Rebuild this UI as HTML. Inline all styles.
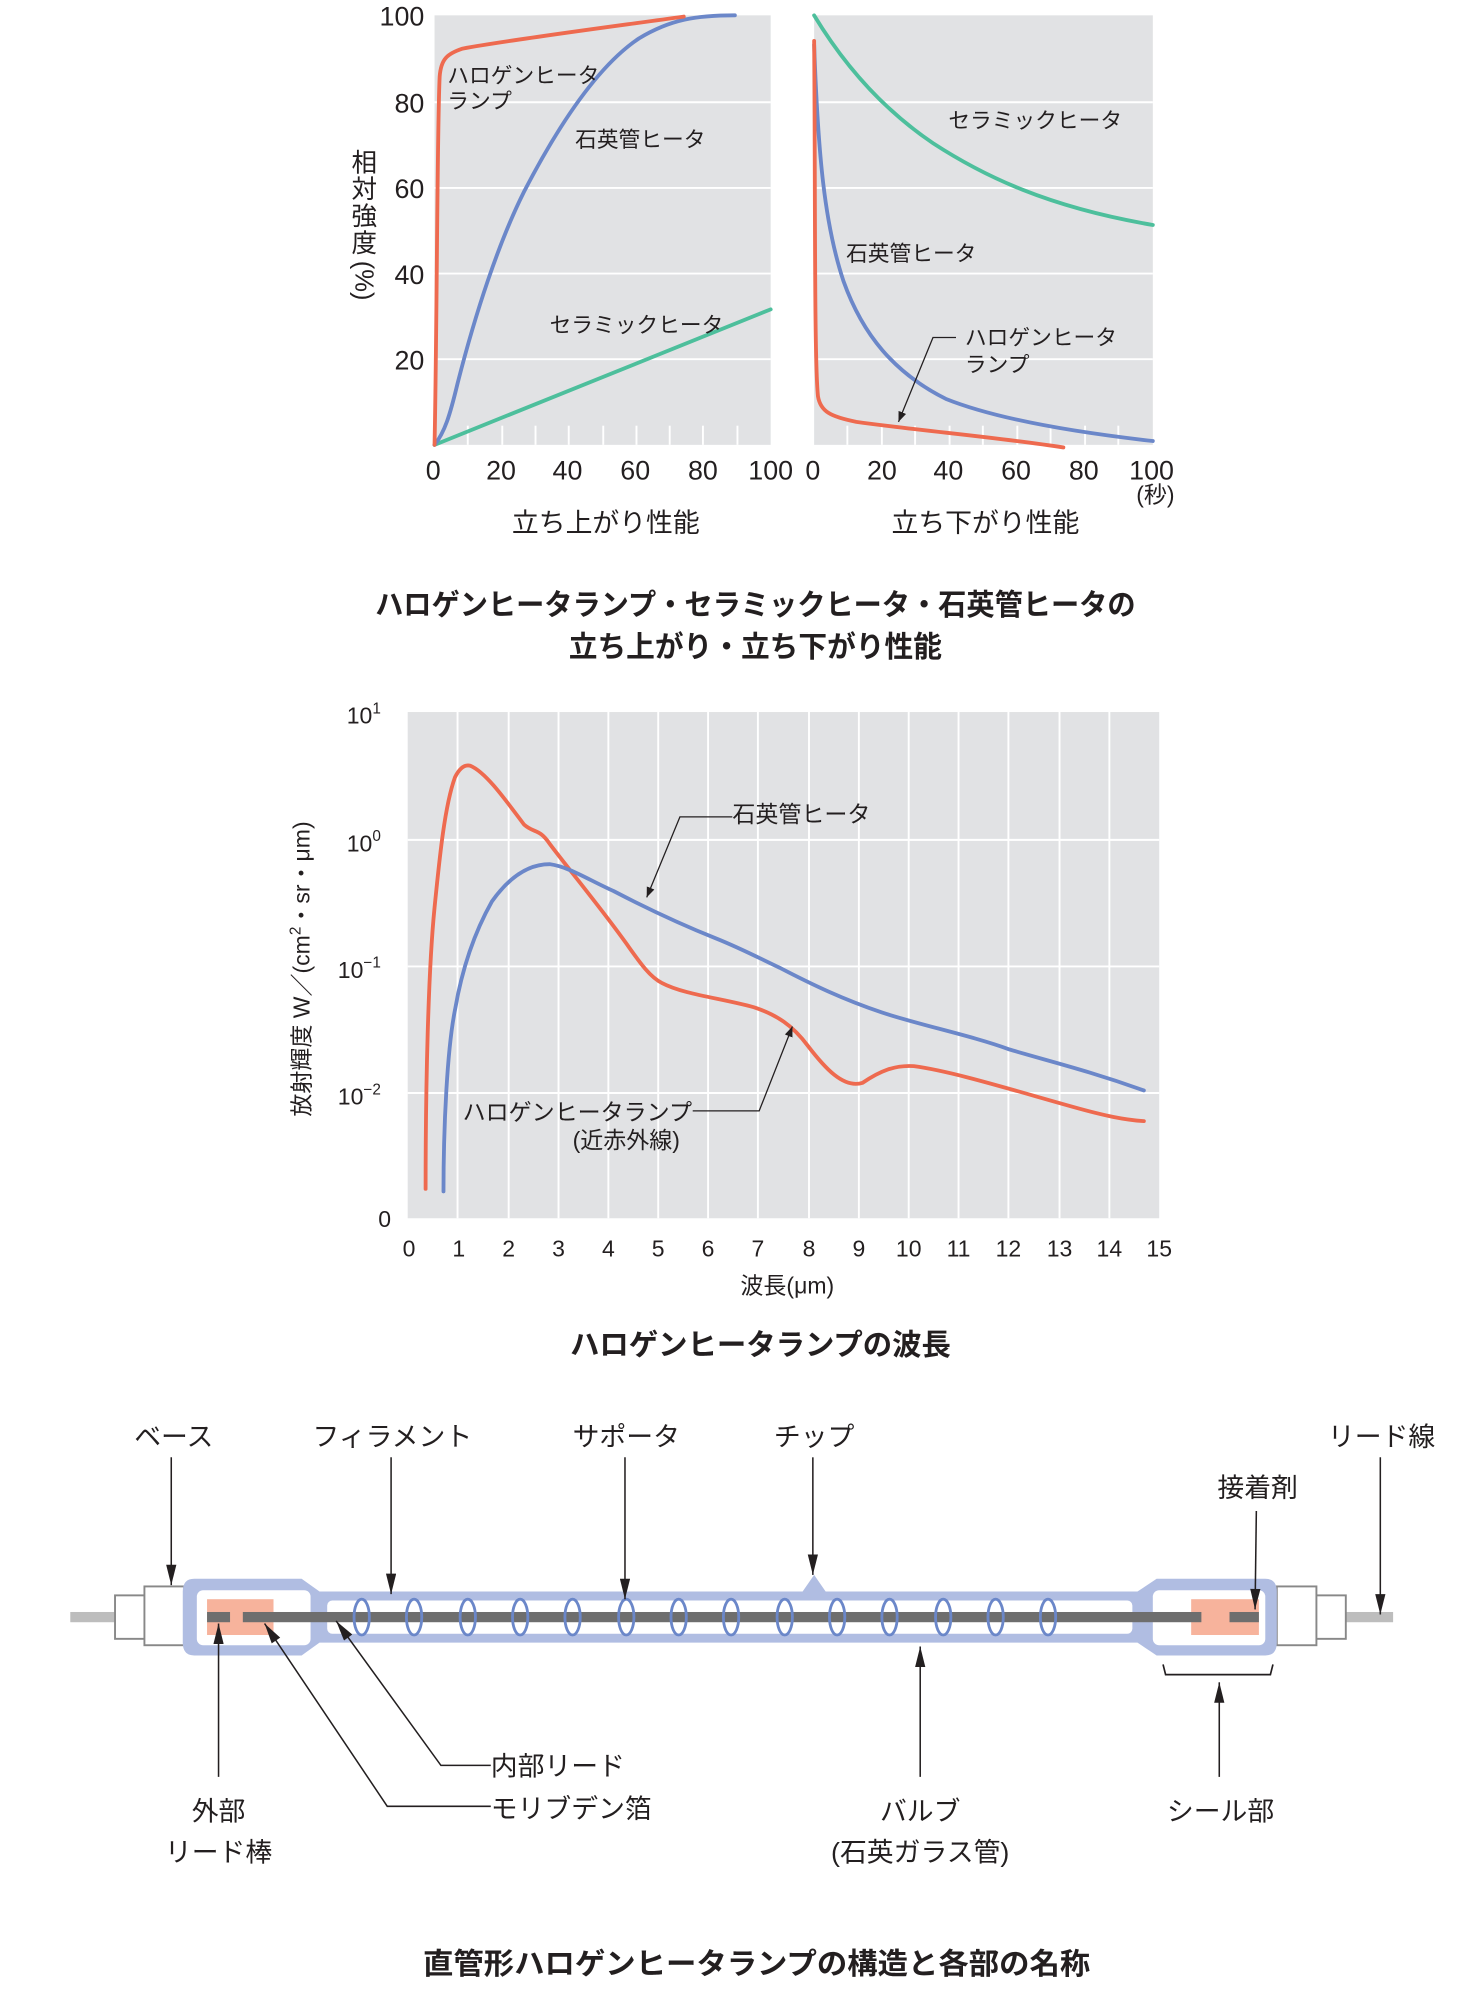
<!DOCTYPE html>
<html><head><meta charset="utf-8"><style>
html,body{margin:0;padding:0;background:#fff;}
svg{display:block;}
text{font-family:"Liberation Sans","Noto Sans CJK JP",sans-serif;fill:#231f20;}
</style></head><body>
<svg width="1457" height="2007" viewBox="0 0 1140 1570" preserveAspectRatio="none" xmlns="http://www.w3.org/2000/svg">
<defs>
<marker id="a2" viewBox="0 0 10 20" markerWidth="8" markerHeight="18" refX="10" refY="10" orient="auto" markerUnits="userSpaceOnUse"><path d="M0,6 L10,10 L0,14 Z" fill="#231f20"/></marker>
<marker id="a3" viewBox="0 0 20 10" markerWidth="18" markerHeight="8" refX="20" refY="5" orient="auto" markerUnits="userSpaceOnUse"><path d="M0,0 L20,5 L0,10 Z" fill="#231f20"/></marker>
</defs>

<!-- TOP CHART -->
<rect x="340" y="12" width="263" height="336" fill="#e1e2e4"/>
<rect x="637" y="12" width="265" height="336" fill="#e1e2e4"/>
<g stroke="#fff" stroke-width="1.5">
<line x1="340" y1="80" x2="603" y2="80"/><line x1="340" y1="147" x2="603" y2="147"/><line x1="340" y1="214" x2="603" y2="214"/><line x1="340" y1="281" x2="603" y2="281"/>
<line x1="637" y1="80" x2="902" y2="80"/><line x1="637" y1="147" x2="902" y2="147"/><line x1="637" y1="214" x2="902" y2="214"/><line x1="637" y1="281" x2="902" y2="281"/>
<line x1="366" y1="333" x2="366" y2="348"/><line x1="393" y1="333" x2="393" y2="348"/><line x1="419" y1="333" x2="419" y2="348"/><line x1="445" y1="333" x2="445" y2="348"/><line x1="472" y1="333" x2="472" y2="348"/><line x1="498" y1="333" x2="498" y2="348"/><line x1="524" y1="333" x2="524" y2="348"/><line x1="550" y1="333" x2="550" y2="348"/><line x1="577" y1="333" x2="577" y2="348"/>
<line x1="663" y1="333" x2="663" y2="348"/><line x1="690" y1="333" x2="690" y2="348"/><line x1="716" y1="333" x2="716" y2="348"/><line x1="743" y1="333" x2="743" y2="348"/><line x1="769" y1="333" x2="769" y2="348"/><line x1="796" y1="333" x2="796" y2="348"/><line x1="822" y1="333" x2="822" y2="348"/><line x1="849" y1="333" x2="849" y2="348"/><line x1="875" y1="333" x2="875" y2="348"/>
</g>
<g fill="none" stroke-width="3" stroke-linecap="round">
<path d="M340,348 L603,242" stroke="#4dbf9c"/>
<path d="M340,348 C348,338 352,325 358,300 C372,245 390,190 410,150 C440,92 470,50 500,30 C525,15 545,12 575,12" stroke="#6b87c9"/>
<path d="M340,348 C342,250 342,100 344,60 C345,46 350,42 362,38 C400,31 470,22 535,13" stroke="#ee6a4f"/>
<path d="M637,12 C660,50 690,85 730,112 C770,138 820,162 902,176" stroke="#4dbf9c"/>
<path d="M637,35 C640,120 645,175 660,220 C675,262 700,292 740,312 C780,328 840,338 902,345" stroke="#6b87c9"/>
<path d="M637,32 C638,150 637,280 640,310 C642,322 650,326 670,330 C720,337 780,342 832,350" stroke="#ee6a4f"/>
</g>
<path d="M748,264 L730,264 L703,330" fill="none" stroke="#231f20" stroke-width="1" marker-end="url(#a2)"/>
<g font-size="17">
<text x="350" y="65">ハロゲンヒータ</text><text x="350" y="85">ランプ</text>
<text x="450" y="115">石英管ヒータ</text>
<text x="430" y="260">セラミックヒータ</text>
<text x="742" y="100">セラミックヒータ</text>
<text x="662" y="204">石英管ヒータ</text>
<text x="755" y="270">ハロゲンヒータ</text><text x="755" y="291">ランプ</text>
</g>
<g font-size="21" text-anchor="end">
<text x="332" y="20">100</text><text x="332" y="88">80</text><text x="332" y="155">60</text><text x="332" y="222">40</text><text x="332" y="289">20</text>
</g>
<g font-size="21" text-anchor="middle">
<text x="339" y="375">0</text><text x="392" y="375">20</text><text x="444" y="375">40</text><text x="497" y="375">60</text><text x="550" y="375">80</text><text x="603" y="375">100</text>
<text x="636" y="375">0</text><text x="690" y="375">20</text><text x="742" y="375">40</text><text x="795" y="375">60</text><text x="848" y="375">80</text><text x="901" y="375">100</text>
<text x="904" y="393" font-size="18">(秒)</text>
<text x="474" y="416">立ち上がり性能</text><text x="771" y="416">立ち下がり性能</text>
</g>
<g font-size="20" text-anchor="middle"><text x="285" y="134">相</text><text x="285" y="155">対</text><text x="285" y="176">強</text><text x="285" y="197">度</text></g>
<text transform="translate(278,204) rotate(90)" font-size="20">(%)</text>
<g font-size="23" font-weight="bold" text-anchor="middle">
<text x="591" y="481" textLength="595" lengthAdjust="spacingAndGlyphs">ハロゲンヒータランプ・セラミックヒータ・石英管ヒータの</text>
<text x="591" y="514" textLength="292" lengthAdjust="spacingAndGlyphs">立ち上がり・立ち下がり性能</text>
</g>

<!-- MIDDLE CHART -->
<rect x="319" y="557" width="588" height="396" fill="#e1e2e4"/>
<g stroke="#fff" stroke-width="1.5">
<line x1="319" y1="657" x2="907" y2="657"/><line x1="319" y1="756" x2="907" y2="756"/><line x1="319" y1="855" x2="907" y2="855"/>
<line x1="358" y1="557" x2="358" y2="953"/><line x1="398" y1="557" x2="398" y2="953"/><line x1="437" y1="557" x2="437" y2="953"/><line x1="476" y1="557" x2="476" y2="953"/><line x1="515" y1="557" x2="515" y2="953"/><line x1="554" y1="557" x2="554" y2="953"/><line x1="593" y1="557" x2="593" y2="953"/><line x1="633" y1="557" x2="633" y2="953"/><line x1="672" y1="557" x2="672" y2="953"/><line x1="711" y1="557" x2="711" y2="953"/><line x1="750" y1="557" x2="750" y2="953"/><line x1="789" y1="557" x2="789" y2="953"/><line x1="829" y1="557" x2="829" y2="953"/><line x1="868" y1="557" x2="868" y2="953"/>
</g>
<g fill="none" stroke-width="3" stroke-linecap="round" stroke-linejoin="round">
<path d="M333,930 C333,850 335,760 340,710 C344,670 348,630 356,608 C360,600 364,598 368,599 C380,604 395,625 410,645 C418,652 422,648 430,660 C445,680 470,710 490,738 C500,752 508,764 518,769 C535,778 565,781 590,788 C608,794 620,802 632,818 C645,835 660,852 675,847 C688,838 700,833 715,834 C745,838 790,852 840,866 C865,873 880,876 895,877" stroke="#ee6a4f"/>
<path d="M347,932 C347,880 350,820 356,790 C362,755 372,728 385,705 C400,684 415,676 430,676 C445,678 460,688 480,697 C505,710 530,722 560,734 C580,742 595,750 610,757 C635,770 660,782 690,792 C720,802 760,810 790,821 C820,830 850,837 895,853" stroke="#6b87c9"/>
</g>
<path d="M573,639 L532,639 L506,702" fill="none" stroke="#231f20" stroke-width="1" marker-end="url(#a2)"/>
<path d="M542,869 L594,869 L620,803" fill="none" stroke="#231f20" stroke-width="1" marker-end="url(#a2)"/>
<g font-size="18"><text x="573" y="643">石英管ヒータ</text><text x="362" y="876">ハロゲンヒータランプ</text><text x="448" y="898">(近赤外線)</text></g>
<g font-size="18" text-anchor="end">
<text x="298" y="566">10<tspan font-size="12" dy="-8">1</tspan></text>
<text x="298" y="666">10<tspan font-size="12" dy="-8">0</tspan></text>
<text x="298" y="765">10<tspan font-size="12" dy="-8">−1</tspan></text>
<text x="298" y="864">10<tspan font-size="12" dy="-8">−2</tspan></text>
<text x="306" y="960">0</text>
</g>
<g font-size="18" text-anchor="middle">
<text x="320" y="983">0</text><text x="359" y="983">1</text><text x="398" y="983">2</text><text x="437" y="983">3</text><text x="476" y="983">4</text><text x="515" y="983">5</text><text x="554" y="983">6</text><text x="593" y="983">7</text><text x="633" y="983">8</text><text x="672" y="983">9</text><text x="711" y="983">10</text><text x="750" y="983">11</text><text x="789" y="983">12</text><text x="829" y="983">13</text><text x="868" y="983">14</text><text x="907" y="983">15</text>
<text x="616" y="1012">波長(μm)</text>
</g>
<text transform="translate(242,758) rotate(-90)" font-size="18" text-anchor="middle">放射輝度 W／(cm<tspan font-size="12" dy="-7">2</tspan><tspan dy="7">・sr・μm)</tspan></text>
<text x="595" y="1060" font-size="23" font-weight="bold" text-anchor="middle">ハロゲンヒータランプの波長</text>

<!-- BOTTOM DIAGRAM -->
<rect x="55" y="1261" width="36" height="8" fill="#bdbdbd"/>
<rect x="1053" y="1261" width="37" height="8" fill="#bdbdbd"/>
<rect x="90" y="1248" width="24" height="34" fill="#fff" stroke="#888" stroke-width="1.5"/>
<rect x="113" y="1241" width="31" height="46" fill="#fff" stroke="#888" stroke-width="1.5"/>
<rect x="1029" y="1248" width="24" height="34" fill="#fff" stroke="#888" stroke-width="1.5"/>
<rect x="999" y="1241" width="31" height="46" fill="#fff" stroke="#888" stroke-width="1.5"/>
<path d="M152,1235 L236,1235 L250,1245 L628,1245 L637,1232 L646,1245 L890,1245 L905,1235 L990,1235 Q999,1235 999,1245 L999,1285 Q999,1295 990,1295 L905,1295 L890,1285 L250,1285 L236,1295 L152,1295 Q143,1295 143,1285 L143,1245 Q143,1235 152,1235 Z" fill="#b0bde2"/>
<rect x="154" y="1244" width="89" height="43" rx="5" fill="#fff"/>
<rect x="256" y="1252" width="630" height="26" rx="4" fill="#fff"/>
<rect x="902" y="1244" width="88" height="43" rx="5" fill="#fff"/>
<rect x="162" y="1251" width="52" height="28" fill="#f7b39c"/>
<rect x="932" y="1251" width="53" height="28" fill="#f7b39c"/>
<rect x="162" y="1261" width="18" height="8" fill="#6e6e6e"/>
<rect x="190" y="1261" width="750" height="8" fill="#6e6e6e"/>
<rect x="962" y="1261" width="23" height="8" fill="#6e6e6e"/>
<g fill="none" stroke="#6b87c9" stroke-width="2.2">
<ellipse cx="283" cy="1265" rx="6" ry="14"/><ellipse cx="324" cy="1265" rx="6" ry="14"/><ellipse cx="366" cy="1265" rx="6" ry="14"/><ellipse cx="407" cy="1265" rx="6" ry="14"/><ellipse cx="448" cy="1265" rx="6" ry="14"/><ellipse cx="490" cy="1265" rx="6" ry="14"/><ellipse cx="531" cy="1265" rx="6" ry="14"/><ellipse cx="572" cy="1265" rx="6" ry="14"/><ellipse cx="614" cy="1265" rx="6" ry="14"/><ellipse cx="655" cy="1265" rx="6" ry="14"/><ellipse cx="696" cy="1265" rx="6" ry="14"/><ellipse cx="738" cy="1265" rx="6" ry="14"/><ellipse cx="779" cy="1265" rx="6" ry="14"/><ellipse cx="820" cy="1265" rx="6" ry="14"/>
</g>
<path d="M910,1302 L912,1310 L994,1310 L996,1302" fill="none" stroke="#231f20" stroke-width="1.3"/>
<g stroke="#231f20" stroke-width="1.2" fill="none">
<line x1="134" y1="1140" x2="134" y2="1240" marker-end="url(#a3)"/>
<line x1="306" y1="1140" x2="306" y2="1247" marker-end="url(#a3)"/>
<line x1="489" y1="1140" x2="489" y2="1251" marker-end="url(#a3)"/>
<line x1="636" y1="1140" x2="636" y2="1232" marker-end="url(#a3)"/>
<line x1="983" y1="1182" x2="982" y2="1259" marker-end="url(#a3)"/>
<line x1="1080" y1="1140" x2="1080" y2="1263" marker-end="url(#a3)"/>
<line x1="171" y1="1390" x2="171" y2="1270" marker-end="url(#a3)"/>
<path d="M384,1413 L303,1413 L207,1270" marker-end="url(#a3)"/>
<path d="M384,1381 L345,1381 L263,1268" marker-end="url(#a3)"/>
<line x1="720" y1="1390" x2="720" y2="1288" marker-end="url(#a3)"/>
<line x1="954" y1="1390" x2="954" y2="1316" marker-end="url(#a3)"/>
</g>
<g font-size="21" text-anchor="middle">
<text x="136" y="1131">ベース</text><text x="307" y="1131">フィラメント</text><text x="490" y="1131">サポータ</text><text x="637" y="1131">チップ</text><text x="1081" y="1131">リード線</text><text x="984" y="1171">接着剤</text>
<text x="171" y="1424">外部</text><text x="171" y="1456">リード棒</text>
<text x="720" y="1424">バルブ</text><text x="720" y="1456">(石英ガラス管)</text>
<text x="955" y="1424">シール部</text>
</g>
<g font-size="21"><text x="384" y="1389">内部リード</text><text x="384" y="1422">モリブデン箔</text></g>
<text x="592" y="1544" font-size="23" font-weight="bold" text-anchor="middle" textLength="522" lengthAdjust="spacingAndGlyphs">直管形ハロゲンヒータランプの構造と各部の名称</text>
</svg>
</body></html>
